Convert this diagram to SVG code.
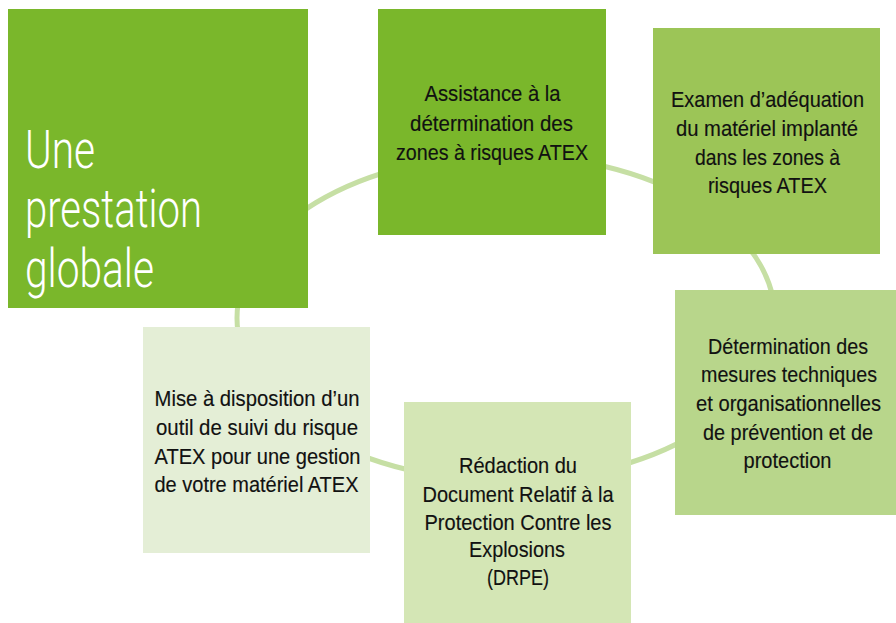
<svg xmlns="http://www.w3.org/2000/svg" width="896" height="623" viewBox="0 0 896 623">
<style>
.t{font-family:'Liberation Sans Narrow','Liberation Sans',Arial,sans-serif;font-size:21.5px;fill:#111;text-anchor:middle;stroke:#111;stroke-width:0.15}
.title{font-family:Roboto,'Liberation Sans',sans-serif;font-weight:300;font-size:54px;fill:#fff}
.ring{fill:none;stroke:#c6dfa4;stroke-width:5}
</style>
<rect width="896" height="623" fill="#fff"/>
<g id="connectors">
<ellipse class="ring" cx="506" cy="318" rx="269" ry="163"/>
</g>
<g id="n0">
<rect x="8" y="9" width="300" height="299" fill="#7ab72b"/>
<text class="title" x="25" y="168" textLength="70" lengthAdjust="spacingAndGlyphs">Une</text>
<text class="title" x="25" y="227" textLength="177" lengthAdjust="spacingAndGlyphs">prestation</text>
<text class="title" x="25" y="287" textLength="129" lengthAdjust="spacingAndGlyphs">globale</text>
</g>
<g id="n1">
<rect x="378" y="9" width="228" height="226" fill="#7ab72b"/>
<text class="t" x="492.5" y="101" textLength="136" lengthAdjust="spacingAndGlyphs">Assistance à la</text>
<text class="t" x="491.5" y="130.5" textLength="163" lengthAdjust="spacingAndGlyphs">détermination des</text>
<text class="t" x="492" y="160" textLength="192" lengthAdjust="spacingAndGlyphs">zones à risques ATEX</text>
</g>
<g id="n2">
<rect x="653" y="28" width="227" height="226" fill="#9cc557"/>
<text class="t" x="767.5" y="107" textLength="193" lengthAdjust="spacingAndGlyphs">Examen d’adéquation</text>
<text class="t" x="767" y="136" textLength="182" lengthAdjust="spacingAndGlyphs">du matériel implanté</text>
<text class="t" x="767.5" y="164.5" textLength="145" lengthAdjust="spacingAndGlyphs">dans les zones à</text>
<text class="t" x="767.5" y="193" textLength="119" lengthAdjust="spacingAndGlyphs">risques ATEX</text>
</g>
<g id="n3">
<rect x="675" y="290" width="225" height="225" fill="#b8d68b"/>
<text class="t" x="788" y="353.5" textLength="160" lengthAdjust="spacingAndGlyphs">Détermination des</text>
<text class="t" x="789" y="382" textLength="176" lengthAdjust="spacingAndGlyphs">mesures techniques</text>
<text class="t" x="788.5" y="411" textLength="185" lengthAdjust="spacingAndGlyphs">et organisationnelles</text>
<text class="t" x="788" y="439.5" textLength="170" lengthAdjust="spacingAndGlyphs">de prévention et de</text>
<text class="t" x="787.5" y="468" textLength="88" lengthAdjust="spacingAndGlyphs">protection</text>
</g>
<g id="n4">
<rect x="404" y="402" width="227" height="221" fill="#d4e6b5"/>
<text class="t" x="518" y="473" textLength="118" lengthAdjust="spacingAndGlyphs">Rédaction du</text>
<text class="t" x="518" y="501.5" textLength="191" lengthAdjust="spacingAndGlyphs">Document Relatif à la</text>
<text class="t" x="518" y="530" textLength="187" lengthAdjust="spacingAndGlyphs">Protection Contre les</text>
<text class="t" x="517" y="557" textLength="96" lengthAdjust="spacingAndGlyphs">Explosions</text>
<text class="t" x="518" y="585" textLength="62" lengthAdjust="spacingAndGlyphs">(DRPE)</text>
</g>
<g id="n5">
<rect x="143" y="327" width="227" height="226" fill="#e4eed6"/>
<text class="t" x="257" y="406" textLength="205" lengthAdjust="spacingAndGlyphs">Mise à disposition d’un</text>
<text class="t" x="257" y="435" textLength="202" lengthAdjust="spacingAndGlyphs">outil de suivi du risque</text>
<text class="t" x="257.5" y="463.5" textLength="206" lengthAdjust="spacingAndGlyphs">ATEX pour une gestion</text>
<text class="t" x="256.5" y="492" textLength="204" lengthAdjust="spacingAndGlyphs">de votre matériel ATEX</text>
</g>
</svg>
